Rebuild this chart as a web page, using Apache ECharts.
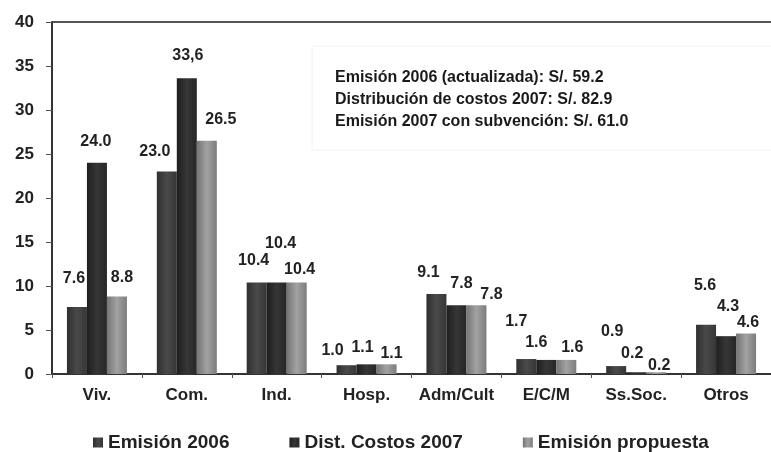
<!DOCTYPE html>
<html>
<head>
<meta charset="utf-8">
<script src="https://cdn.jsdelivr.net/npm/echarts@6/dist/echarts.min.js"></script>
<style>
    * { margin: 0; padding: 0; }
    body { background: #fff; }
</style>
</head>
<body>
<div id="chart" style="width: 771px; height: 452px;"></div>
<script>
    // datos
    var categorias = ['Viv.', 'Com.', 'Ind.', 'Hosp.', 'Adm/Cult', 'E/C/M', 'Ss.Soc.', 'Otros'];
    var emision2006 = [7.6, 23.0, 10.4, 1.0, 9.1, 1.7, 0.9, 5.6];
    var distCostos2007 = [24.0, 33.6, 10.4, 1.1, 7.8, 1.6, 0.2, 4.3];
    var emisionPropuesta = [8.8, 26.5, 10.4, 1.1, 7.8, 1.6, 0.2, 4.6];
    var nombresSeries = ['Emisión 2006', 'Dist. Costos 2007', 'Emisión propuesta'];
    var notas = [
        'Emisión 2006 (actualizada): S/. 59.2',
        'Distribución de costos 2007: S/. 82.9',
        'Emisión 2007 con subvención: S/. 61.0'
    ];

    // desplazamiento de etiquetas (como en el original)
    var offs1 = [[-3, -16], [-12, -7], [-3, -9], [-14, -2], [-8, -8], [-10, -24], [-4, -21], [-1, -26]];
    var offs2 = [[-1, -8], [1, -10], [4, -26], [-4, -4], [5, -9], [-10, -4], [-4, -6], [2, -17]];
    var offs3 = [[5, -6], [14, -8], [3, 0], [5, 2], [15, 2], [6, 1], [3, 6], [2, 2]];

    var fuente = 'Liberation Sans, Arial, sans-serif';

    function grad(a, b, c) {
        return new echarts.graphic.LinearGradient(0, 0, 1, 0, [
            {offset: 0, color: a}, {offset: 0.5, color: b}, {offset: 1, color: c}
        ]);
    }

    function armar(valores, offs, comaIdx) {
        return valores.map(function (v, i) {
            var txt = v.toFixed(1);
            if (i === comaIdx) txt = txt.replace('.', ',');
            return {value: v, label: {offset: offs[i], formatter: txt}};
        });
    }

    var etiqueta = {
        show: true,
        position: 'top',
        distance: 5,
        color: '#222',
        fontFamily: fuente,
        fontWeight: 'bold',
        fontSize: 16
    };

    var colores = [
        grad('#2f2f2f', '#4a4a4a', '#363636'),
        grad('#1e1e1e', '#363636', '#262626'),
        grad('#747474', '#a2a2a2', '#7c7c7c')
    ];

    var option = {
        animation: false,
        backgroundColor: '#fff',
        grid: {left: 52, top: 22, width: 728, height: 352},
        legend: {
            left: 88,
            top: 428,
            itemWidth: 10,
            itemHeight: 10,
            itemGap: 60,
            icon: 'rect',
            textStyle: {fontFamily: fuente, fontWeight: 'bold', fontSize: 19, color: '#222'},
            data: nombresSeries
        },
        xAxis: {
            type: 'category',
            data: categorias,
            axisLine: {lineStyle: {color: '#333', width: 2}},
            axisTick: {show: true, length: 4, lineStyle: {color: '#555'}},
            axisLabel: {interval: 0, margin: 13, color: '#222', fontFamily: fuente, fontWeight: 'bold', fontSize: 17}
        },
        yAxis: {
            type: 'value',
            min: 0,
            max: 40,
            interval: 5,
            splitLine: {show: false},
            axisLine: {show: true, lineStyle: {color: '#333', width: 2}},
            axisTick: {show: true, length: 6, lineStyle: {color: '#555'}},
            axisLabel: {margin: 18, color: '#222', fontFamily: fuente, fontWeight: 'bold', fontSize: 17}
        },
        graphic: [
            {
                type: 'line',
                shape: {x1: 52, y1: 22, x2: 771, y2: 22},
                style: {stroke: '#555', lineWidth: 2}
            },
            {
                type: 'rect',
                shape: {x: 312, y: 46, width: 470, height: 104},
                style: {fill: '#fff', stroke: '#f2f2f2', lineWidth: 1}
            },
            {
                type: 'text',
                left: 335,
                top: 67,
                style: {
                    text: notas.join('\n'),
                    fill: '#1a1a1a',
                    font: 'bold 16px ' + fuente,
                    lineHeight: 22
                }
            }
        ],
        series: [
            {
                name: nombresSeries[0],
                type: 'bar',
                barWidth: 20,
                barGap: '0%',
                itemStyle: {color: colores[0]},
                label: etiqueta,
                data: armar(emision2006, offs1, -1)
            },
            {
                name: nombresSeries[1],
                type: 'bar',
                barWidth: 20,
                barGap: '0%',
                itemStyle: {color: colores[1]},
                label: etiqueta,
                data: armar(distCostos2007, offs2, 1)
            },
            {
                name: nombresSeries[2],
                type: 'bar',
                barWidth: 20,
                barGap: '0%',
                itemStyle: {color: colores[2]},
                label: etiqueta,
                data: armar(emisionPropuesta, offs3, -1)
            }
        ]
    };

    var myChart = echarts.init(document.getElementById('chart'));
    myChart.setOption(option);
</script>
</body>
</html>
